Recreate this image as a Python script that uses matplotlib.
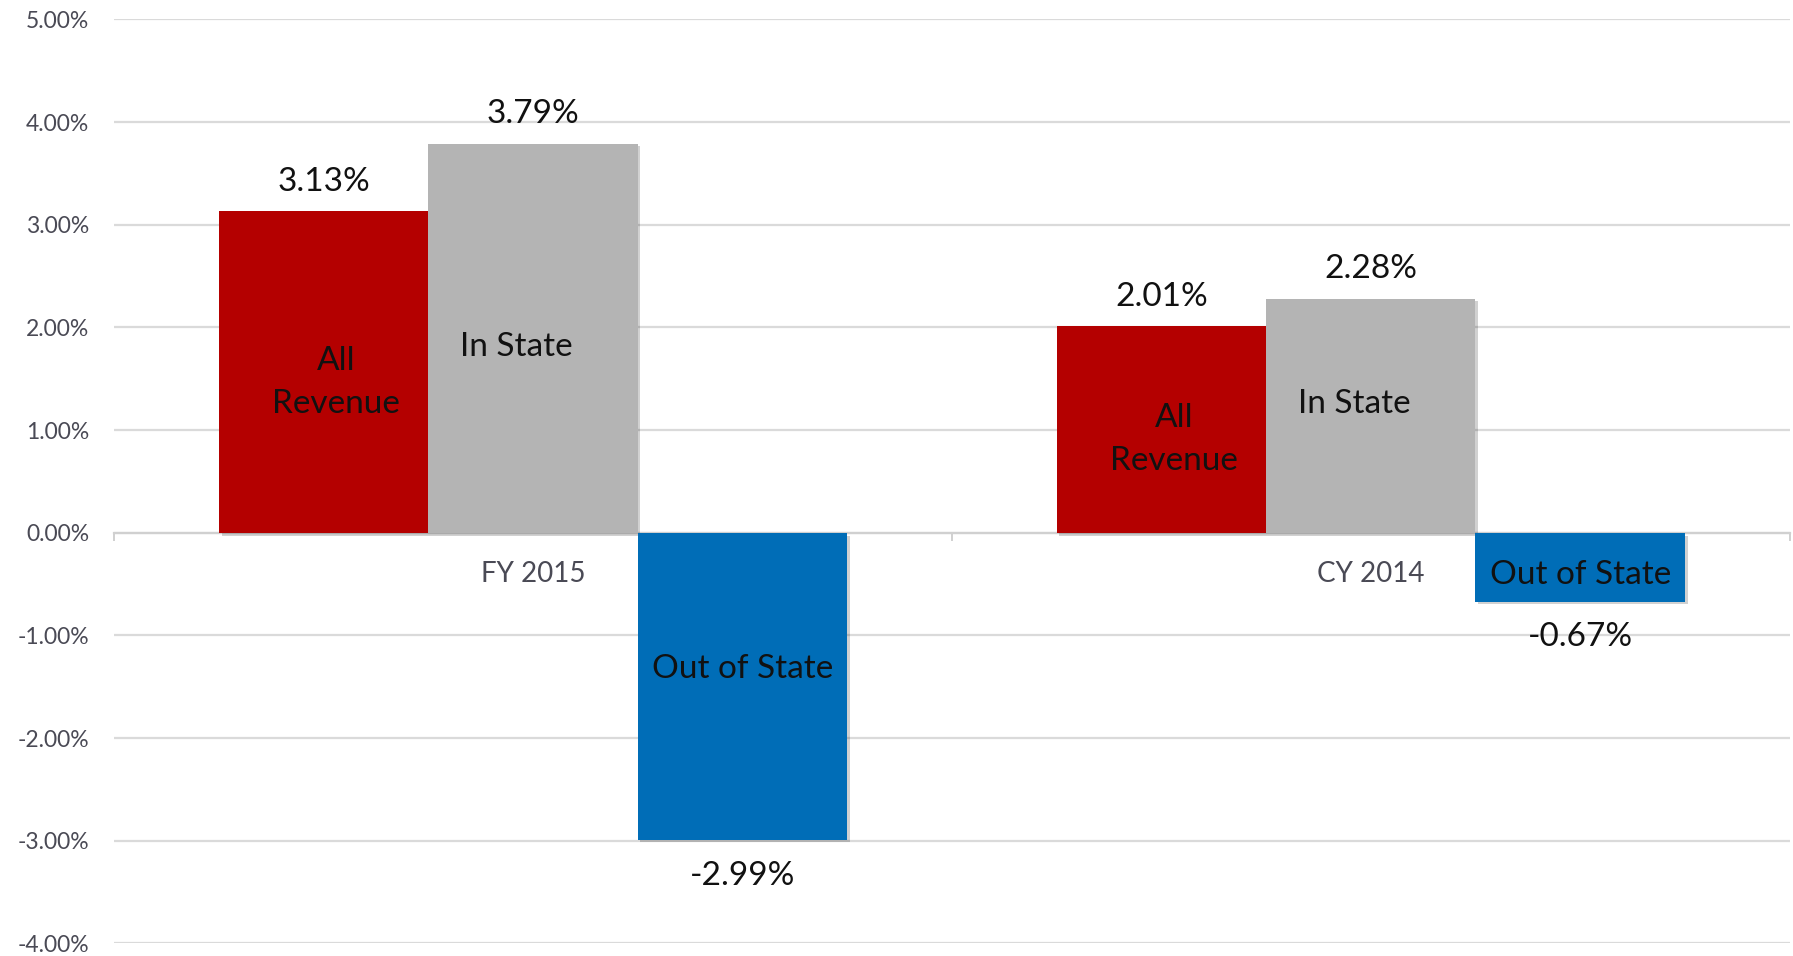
import matplotlib
matplotlib.use("Agg")
import matplotlib.pyplot as plt
import matplotlib.patheffects as pe
import numpy as np
from matplotlib.ticker import FuncFormatter, FixedLocator

# ---- data ----
categories = ["FY 2015", "CY 2014"]
series_names = ["All\nRevenue", "In State", "Out of State"]
all_revenue = [3.13, 2.01]
in_state = [3.79, 2.28]
out_of_state = [-2.99, -0.67]
value_labels_text = [["3.13%", "2.01%"], ["3.79%", "2.28%"], ["-2.99%", "-0.67%"]]

series_values = [all_revenue, in_state, out_of_state]
colors = ["#B40000", "#B4B4B4", "#006DB7"]

plt.rcParams['font.family'] = ['Lato', 'DejaVu Sans']

fig = plt.figure(figsize=(17.93, 9.56), dpi=100)
ax = fig.add_axes([0.0636, 0.0132, 0.9345, 0.9665])

x = np.arange(len(categories))
width = 0.25
offsets = [-width, 0, width]

# inner-label vertical placements (data units), per series per category
inner_label_y = [[1.46, 0.91], [1.81, 1.25], [-1.33, -0.41]]
inner_label_dx = [[0.015, 0.015], [-0.02, -0.02], [0.0, 0.0]]

shadow = [pe.SimplePatchShadow(offset=(2, -2), shadow_rgbFace="#000000", alpha=0.18), pe.Normal()]

for si, vals in enumerate(series_values):
    bars = ax.bar(x + offsets[si], vals, width=width, color=colors[si], zorder=3,
                  linewidth=0)
    for b in bars:
        b.set_path_effects(shadow)
    for ci, v in enumerate(vals):
        xc = x[ci] + offsets[si]
        va = 'bottom' if v >= 0 else 'top'
        off = 10.5 if v >= 0 else -15
        ax.annotate(value_labels_text[si][ci], (xc, v), xytext=(0, off),
                    textcoords='offset points', ha='center', va=va,
                    fontsize=24, color='#111111', zorder=5)
        ax.text(xc + inner_label_dx[si][ci], inner_label_y[si][ci], series_names[si],
                ha='center', va='center', fontsize=24, color='#111111',
                linespacing=1.55, zorder=5)

ax.set_ylim(-4, 5)
ax.set_xlim(-0.5, len(categories) - 0.5)
ax.yaxis.set_major_locator(FixedLocator(np.arange(-4, 5.01, 1)))
ax.yaxis.set_major_formatter(FuncFormatter(lambda v, p: f"{v:.2f}%"))
ax.grid(axis='y', color='#DADADA', linewidth=1.6, zorder=0)
ax.set_axisbelow(True)

for s in ['top', 'right', 'left']:
    ax.spines[s].set_visible(False)
ax.spines['bottom'].set_position(('data', 0))
ax.spines['bottom'].set_color('#D0D0D0')
ax.spines['bottom'].set_linewidth(1.6)
ax.spines['bottom'].set_zorder(2)

ax.set_xticks(x)
ax.set_xticklabels(categories)
ax.set_xticks([-0.5, 0.5, 1.5], minor=True)
ax.tick_params(axis='x', which='major', length=0, pad=20, labelsize=20, labelcolor='#4A4A55')
ax.tick_params(axis='x', which='minor', length=6, width=1.4, color='#D0D0D0', direction='out')
ax.tick_params(axis='y', length=0, pad=18, labelsize=16.5, labelcolor='#4A4A55')

fig.savefig("out.png", dpi=100, facecolor='white')
